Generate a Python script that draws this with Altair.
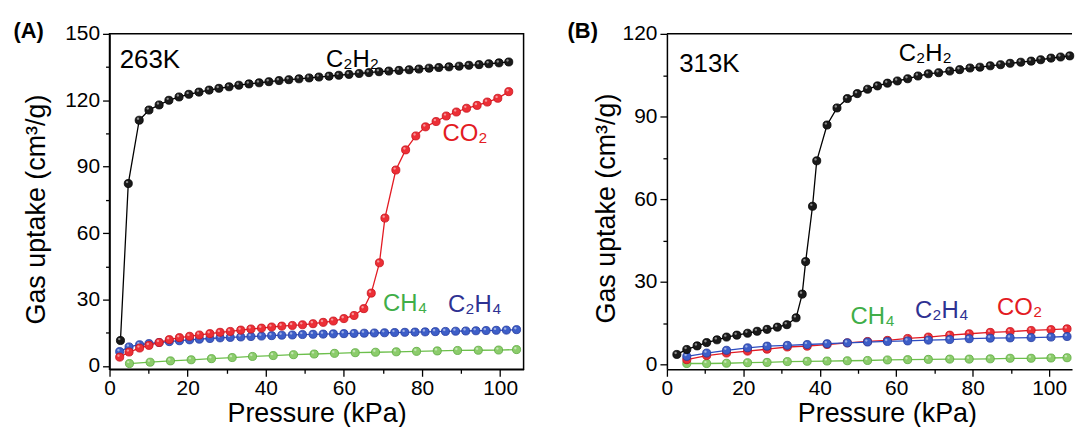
import altair as alt
import pandas as pd

FONT = "Liberation Sans"

# ---------------- Panel A : 263 K ----------------
A_C2H2_P = [2.8, 4.8, 7.6, 10.1, 12.7, 15.2, 17.8, 20.3, 22.9, 25.5, 28.0, 30.6, 33.1, 35.7,
            38.3, 40.8, 43.4, 45.9, 48.5, 51.1, 53.6, 56.2, 58.7, 61.3, 63.9, 66.4, 69.0,
            71.5, 74.1, 76.7, 79.2, 81.8, 84.3, 86.9, 89.5, 92.0, 94.6, 97.1, 99.7, 102.2]
A_C2H2_Q = [11.5, 82.4, 111.0, 115.6, 117.9, 120.0, 121.5, 122.7, 123.7, 124.6, 125.4, 126.1,
            126.8, 127.4, 127.9, 128.4, 128.9, 129.3, 129.7, 130.1, 130.5, 130.9, 131.3, 131.7,
            132.1, 132.5, 132.9, 133.2, 133.5, 133.8, 134.1, 134.5, 134.8, 135.1, 135.4, 135.8,
            136.1, 136.5, 136.9, 137.3]
A_CO2_P = [2.6, 5.0, 7.7, 10.1, 12.7, 15.3, 17.9, 20.5, 23.0, 25.7, 28.3, 30.9, 33.6, 36.2,
           38.9, 41.5, 44.1, 46.8, 49.4, 52.1, 54.7, 57.3, 60.0, 62.6, 65.1, 67.0, 69.1, 70.5,
           73.3, 75.8, 78.4, 80.9, 83.6, 86.2, 88.8, 91.4, 94.1, 96.7, 99.4, 102.2]
A_CO2_Q = [4.0, 6.3, 8.1, 9.3, 10.6, 11.9, 12.8, 13.4, 14.0, 14.6, 15.2, 15.6, 16.2, 16.7,
           17.1, 17.6, 18.0, 18.3, 18.6, 19.1, 19.7, 20.3, 21.4, 22.8, 25.9, 32.9, 46.6, 66.8,
           88.5, 97.6, 103.9, 108.0, 110.4, 112.9, 114.7, 116.4, 117.7, 119.2, 120.9, 123.9]
A_C2H4_P = [2.6, 5.0, 7.7, 10.1, 12.7, 15.3, 17.9, 20.5, 23.0, 25.7, 28.3, 30.9, 33.6, 36.2,
            38.9, 41.5, 44.1, 46.8, 49.4, 52.1, 54.7, 57.3, 60.0, 62.6, 65.2, 67.8, 70.4, 73.0,
            75.6, 78.2, 80.8, 83.4, 86.0, 88.6, 91.2, 93.8, 96.4, 99.0, 101.6, 104.2]
A_C2H4_Q = [6.5, 8.6, 9.6, 10.1, 10.6, 11.0, 11.4, 11.8, 12.1, 12.4, 12.7, 12.9, 13.1, 13.3,
            13.5, 13.7, 13.9, 14.0, 14.2, 14.3, 14.4, 14.5, 14.6, 14.7, 14.8, 14.9, 15.0, 15.1,
            15.2, 15.3, 15.4, 15.5, 15.6, 15.7, 15.8, 15.9, 16.0, 16.1, 16.2, 16.4]
A_CH4_P = [5.1, 10.4, 15.6, 20.9, 26.1, 31.4, 36.6, 41.9, 47.1, 52.4, 57.6, 62.9, 68.1, 73.4,
           78.6, 83.9, 89.1, 94.4, 99.6, 104.2]
A_CH4_Q = [1.1, 1.7, 2.3, 2.8, 3.3, 3.8, 4.3, 4.7, 5.1, 5.4, 5.7, 6.0, 6.2, 6.4, 6.6, 6.8,
           7.0, 7.1, 7.2, 7.4]

# ---------------- Panel B : 313 K ----------------
B_C2H2_P = [2.6, 5.2, 7.9, 10.4, 13.1, 15.6, 18.3, 21.1, 23.6, 26.2, 28.9, 31.4, 33.8, 35.4,
            36.3, 38.1, 39.2, 41.9, 44.5, 47.2, 49.8, 52.5, 55.1, 57.7, 60.3, 63.0, 65.7, 68.4,
            71.1, 74.0, 76.6, 79.3, 81.9, 84.6, 87.3, 89.8, 92.6, 95.3, 97.8, 100.5, 103.0, 105.4]
B_C2H2_Q = [3.6, 5.4, 6.7, 7.9, 8.9, 9.9, 10.6, 11.3, 12.0, 12.7, 13.5, 14.4, 16.9, 25.5,
            37.3, 57.4, 73.9, 86.9, 93.1, 96.5, 98.3, 99.9, 101.1, 102.1, 102.9, 103.7, 104.7,
            105.5, 105.9, 106.5, 107.0, 107.6, 107.9, 108.4, 108.8, 109.3, 109.7, 110.1, 110.6,
            111.2, 111.6, 112.0]
B_OTHER_P = [5.2, 10.4, 15.6, 21.1, 26.2, 31.5, 36.7, 41.9, 47.2, 52.5, 57.7, 63.0, 68.4, 74.0,
             79.1, 84.6, 89.8, 95.3, 100.5, 104.7]
B_CO2_Q = [1.7, 3.2, 4.1, 4.8, 5.5, 6.3, 6.6, 7.2, 7.8, 8.3, 8.7, 9.4, 9.9, 10.6, 11.1, 11.6,
           11.9, 12.3, 12.6, 12.9]
B_C2H4_Q = [2.9, 4.1, 5.1, 6.0, 6.6, 6.9, 7.2, 7.5, 7.8, 8.1, 8.3, 8.5, 8.8, 9.0, 9.3, 9.5,
            9.6, 9.7, 9.9, 10.1]
B_CH4_Q = [0.3, 0.3, 0.4, 0.6, 0.7, 1.0, 1.1, 1.2, 1.3, 1.4, 1.6, 1.7, 1.8, 1.9, 1.9, 2.0,
           2.2, 2.2, 2.3, 2.4]

# ---------------- labels ----------------
GAS_TEXT = ["C₂H₂", "CO₂", "CH₄", "C₂H₄"]
A_LABEL_P = [62.2, 91.0, 75.7, 93.5]
A_LABEL_Q = [138.2, 104.7, 28.1, 27.3]
B_GAS_TEXT = ["C₂H₂", "CH₄", "C₂H₄", "CO₂"]
B_LABEL_P = [67.6, 53.8, 71.9, 92.3]
B_LABEL_Q = [112.7, 17.0, 19.2, 20.5]

COL = {"C2H2": ("#1a1a1a", "#000000"), "CO2": ("#ec2f36", "#c8101a"),
       "C2H4": ("#3d5ec8", "#23399e"), "CH4": ("#8ccc6c", "#5aa93c")}
LINE = {"C2H2": "#000000", "CO2": "#e31b23", "C2H4": "#2c4cc0", "CH4": "#6cbf4b"}
TXT = {"C₂H₂": "#000000", "CO₂": "#e31b23", "CH₄": "#3fae49", "C₂H₄": "#2e3192"}

HIGHLIGHT = "M 0,-0.35 A 0.3,0.3 0 1,1 -0.6,-0.35 A 0.3,0.3 0 1,1 0,-0.35 Z"


def axes(ymax, ymin, xmax, ymajor, ytitlepad, ytitle_y, xtitle_x=None):
    xa = dict(values=list(range(0, 101, 10)),
              labelExpr="datum.value % 20 === 0 ? datum.label : ''",
              tickSize={"condition": {"test": "datum.value % 20 !== 0", "value": 4}, "value": 7},
              title="Pressure (kPa)", titleFont=FONT, titleFontSize=27, titleFontWeight="normal",
              titleColor="black", titlePadding=2, labelFont=FONT, labelFontSize=21,
              labelColor="black", labelPadding=1, labelFlush=False, labelOverlap=False,
              domainColor="black", domainWidth=1.5, tickColor="black", tickWidth=1.3,
              grid=False, format="d")
    if xtitle_x is not None:
        xa["titleX"] = xtitle_x
    x = alt.X("P:Q", scale=alt.Scale(domain=[0, xmax], nice=False, zero=False),
              axis=alt.Axis(**xa))
    yvals = list(range(0, ymax + 1, ymajor // 2))
    y = alt.Y("Q:Q", scale=alt.Scale(domain=[ymin, ymax], nice=False, zero=False),
              axis=alt.Axis(values=yvals,
                            labelExpr=f"datum.value % {ymajor} === 0 ? datum.label : ''",
                            tickSize={"condition": {"test": f"datum.value % {ymajor} !== 0",
                                                    "value": 4}, "value": 7},
                            title="Gas uptake (cm³/g)", titleFont=FONT, titleFontSize=27,
                            titleFontWeight="normal", titleColor="black",
                            titlePadding=ytitlepad, titleY=ytitle_y,
                            labelFont=FONT, labelFontSize=21,
                            labelColor="black", labelPadding=3, labelFlush=False,
                            labelOverlap=False, domainColor="black", domainWidth=1.5,
                            tickColor="black", tickWidth=1.3, grid=False, format="d"))
    return x, y


def series_layers(P, Q, gas, x, y):
    df = pd.DataFrame({"P": P, "Q": Q})
    base = alt.Chart(df)
    fill, stroke = COL[gas]
    line = base.mark_line(color=LINE[gas], strokeWidth=1.3).encode(x=x, y=y)
    pts = base.mark_point(shape="circle", filled=True, fill=fill, stroke=stroke,
                          strokeWidth=0.8, size=66, opacity=1).encode(x=x, y=y)
    hl = base.mark_point(shape=HIGHLIGHT, filled=True, fill="white", opacity=0.5,
                         size=66, strokeWidth=0).encode(x=x, y=y)
    return [line, pts, hl]


def text_layer(texts, P, Q, x, y, size=24):
    df = pd.DataFrame({"P": P, "Q": Q, "t": texts, "c": [TXT[t] for t in texts]})
    return alt.Chart(df).mark_text(font=FONT, fontSize=size, align="center",
                                   baseline="middle").encode(
        x=x, y=y, text="t:N", color=alt.Color("c:N", scale=None))


def anno_layer(text, P, Q, x, y, size, weight):
    df = pd.DataFrame({"P": [P], "Q": [Q], "t": [text]})
    return alt.Chart(df).mark_text(font=FONT, fontSize=size, fontWeight=weight, align="left",
                                   baseline="middle", color="black").encode(x=x, y=y, text="t:N")


# ----- panel A -----
xa, ya = axes(150, -1.5, 106, 30, 14, 176)
layersA = []
for P, Q, g in [(A_CH4_P, A_CH4_Q, "CH4"), (A_C2H4_P, A_C2H4_Q, "C2H4"),
                (A_CO2_P, A_CO2_Q, "CO2"), (A_C2H2_P, A_C2H2_Q, "C2H2")]:
    layersA += series_layers(P, Q, g, xa, ya)
layersA.append(text_layer(GAS_TEXT, A_LABEL_P, A_LABEL_Q, xa, ya))
layersA.append(anno_layer("263K", 2.6, 138.4, xa, ya, 26, "normal"))
layersA.append(anno_layer("(A)", -24.6, 151.2, xa, ya, 22, "bold"))
chartA = alt.layer(*layersA).properties(
    width=416, height=337,
    view=alt.ViewBackground(stroke="black", strokeWidth=1.5, fill="white"))

# ----- panel B -----
xb, yb = axes(120, -1.8, 106, 30, 2, 175, xtitle_x=221)
layersB = []
for P, Q, g in [(B_OTHER_P, B_CH4_Q, "CH4"), (B_OTHER_P, B_CO2_Q, "CO2"),
                (B_OTHER_P, B_C2H4_Q, "C2H4"), (B_C2H2_P, B_C2H2_Q, "C2H2")]:
    layersB += series_layers(P, Q, g, xb, yb)
layersB.append(text_layer(B_GAS_TEXT, B_LABEL_P, B_LABEL_Q, xb, yb))
layersB.append(anno_layer("313K", 3.2, 109.1, xb, yb, 26, "normal"))
layersB.append(anno_layer("(B)", -26.0, 121.0, xb, yb, 22, "bold"))
top_rule = alt.Chart(pd.DataFrame({"Q": [120]})).mark_rule(
    color="black", strokeWidth=1.5).encode(y=yb)
layersB.append(top_rule)
chartB = alt.layer(*layersB).properties(
    width=407, height=337,
    view=alt.ViewBackground(strokeOpacity=0, fill="white"))

chart = alt.HConcatChart(hconcat=[chartA, chartB], spacing=144, bounds="flush").properties(
    padding={"left": 4, "top": 10, "right": 0, "bottom": 0},
    background="white")

chart.save("out.html", embed_options={"renderer": "svg", "actions": False})
